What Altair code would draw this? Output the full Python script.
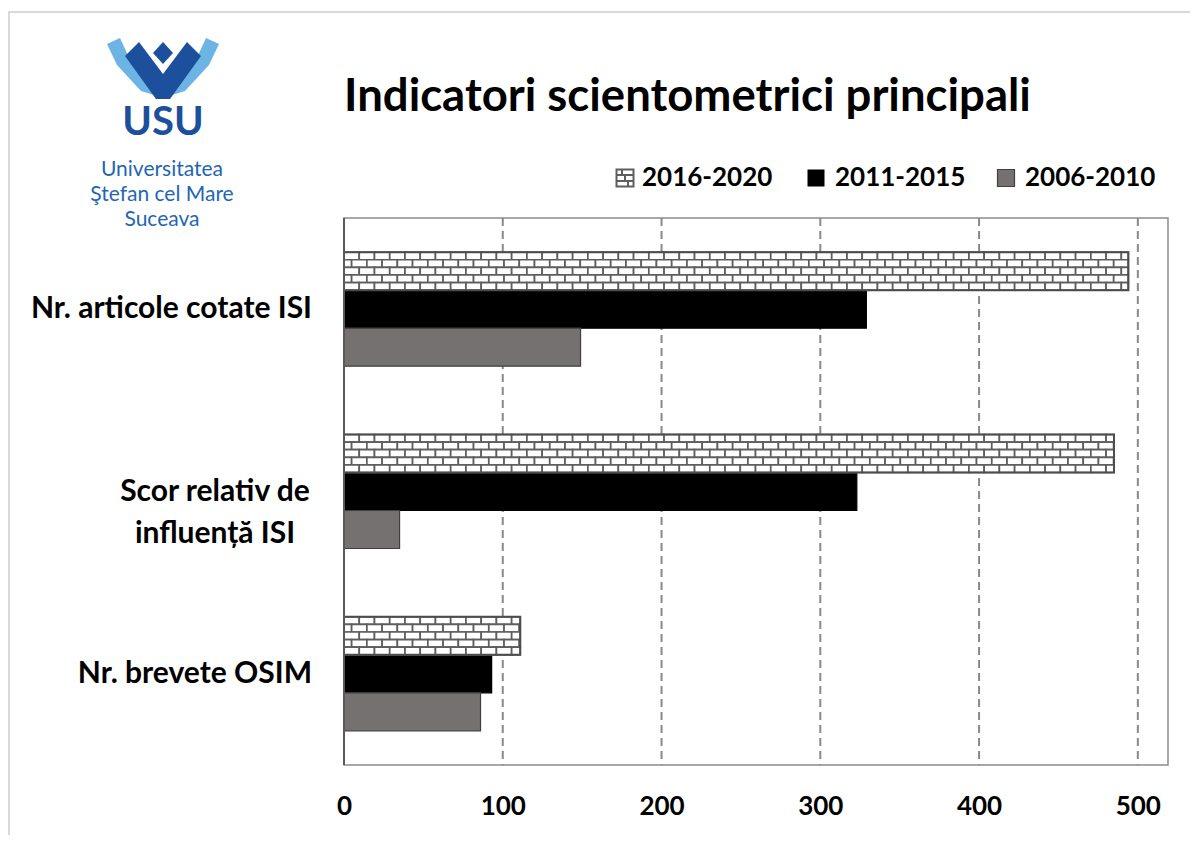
import altair as alt
import pandas as pd

# ---------------- data ----------------
categories = ["Nr. articole cotate ISI", "Scor relativ de\ninfluență ISI", "Nr. brevete OSIM"]
series = ["2016-2020", "2011-2015", "2006-2010"]
v_2016_2020 = [494, 485, 111]
v_2011_2015 = [329, 323, 93]
v_2006_2010 = [149, 35, 86]
x_ticks = [0, 100, 200, 300, 400, 500]

title_text = "Indicatori scientometrici principali"
logo_lines = ["Universitatea", "Ştefan cel Mare", "Suceava"]

# ---------------- layout constants ----------------
BAR = 0.2085            # thickness of one bar in category units
GROUP_HALF = 1.5 * BAR
BRICK_W = 9.6           # brick length in value units
BRICK_ROWS = 5
FONT = "Lato"

all_vals = [v_2016_2020, v_2011_2015, v_2006_2010]
rows = []
for ci, cat in enumerate(categories):
    for si, s in enumerate(series):
        top = ci + 0.5 - GROUP_HALF + si * BAR
        rows.append(dict(category=cat, series=s, value=all_vals[si][ci], x0=0,
                         y0=top, y1=top + BAR, ci=ci))
bars = pd.DataFrame(rows)

brick_rows = []
for ci, cat in enumerate(categories):
    v = v_2016_2020[ci]
    top = ci + 0.5 - GROUP_HALF
    for r in range(BRICK_ROWS):
        x = -(r % 2) * BRICK_W / 2
        while x < v:
            brick_rows.append(dict(bx0=max(x, 0), bx1=min(x + BRICK_W, v),
                                   by0=top + r * BAR / BRICK_ROWS,
                                   by1=top + (r + 1) * BAR / BRICK_ROWS))
            x += BRICK_W
bricks = pd.DataFrame(brick_rows)

labels = pd.DataFrame({"category": categories, "pos": [i + 0.5 for i in range(len(categories))]})
grid = pd.DataFrame({"tick": [t for t in x_ticks if t > 0]})
one = pd.DataFrame({"a": [0]})

W, H = 824, 547
xscale = alt.Scale(domain=[0, 519], nice=False, zero=True)
yscale = alt.Scale(domain=[0, 3], reverse=True, nice=False, zero=False)
xaxis = alt.Axis(values=x_ticks, grid=False, domain=False, ticks=False, title=None,
                 labelFont=FONT, labelFontWeight="bold", labelFontSize=26,
                 labelColor="black", labelPadding=28, labelFlush=False)

# grid lines
grid_layer = alt.Chart(grid).mark_rule(color="#8a8a8a", strokeWidth=2, strokeDash=[8, 5]).encode(
    x=alt.X("tick:Q", scale=xscale, axis=xaxis)
)

# solid bars
solid = alt.Chart(bars).transform_filter(alt.datum.series != "2016-2020").mark_rect(
    strokeWidth=1.2
).encode(
    x=alt.X("x0:Q", scale=xscale, axis=xaxis),
    x2="value:Q",
    y=alt.Y("y0:Q", scale=yscale, axis=None),
    y2="y1:Q",
    fill=alt.Fill("series:N", scale=alt.Scale(domain=series, range=["#ffffff", "#000000", "#767171"]), legend=None),
    stroke=alt.Stroke("series:N", scale=alt.Scale(domain=series, range=["#4d4d4d", "#000000", "#404040"]), legend=None),
)

# brick-patterned bars (2016-2020)
brick_layer = alt.Chart(bricks).mark_rect(fill="#ffffff", stroke="#5e5e5e", strokeWidth=1.7).encode(
    x=alt.X("bx0:Q", scale=xscale, axis=xaxis),
    x2="bx1:Q",
    y=alt.Y("by0:Q", scale=yscale, axis=None),
    y2="by1:Q",
)
brick_outline = alt.Chart(bars).transform_filter(alt.datum.series == "2016-2020").mark_rect(
    fill=None, stroke="#4d4d4d", strokeWidth=2
).encode(
    x=alt.X("x0:Q", scale=xscale, axis=xaxis),
    x2="value:Q",
    y=alt.Y("y0:Q", scale=yscale, axis=None),
    y2="y1:Q",
)

# left axis line
left_line = alt.Chart(one).mark_rule(color="#595959", strokeWidth=2).encode(
    x=alt.X(datum=0, scale=xscale, axis=xaxis)
)

# category labels
label_single = alt.Chart(labels).transform_filter(
    "indexof(datum.category, '\\n') < 0"
).mark_text(align="right", baseline="middle", font=FONT, fontWeight="bold",
            fontSize=30, color="black").encode(
    x=alt.value(-32),
    y=alt.Y("pos:Q", scale=yscale, axis=None),
    text="category:N",
)
label_multi = alt.Chart(labels).transform_filter(
    "indexof(datum.category, '\\n') >= 0"
).mark_text(align="center", baseline="middle", font=FONT, fontWeight="bold",
            fontSize=30, color="black", lineBreak="\n", lineHeight=42).encode(
    x=alt.value(-129),
    y=alt.Y("pos:Q", scale=yscale, axis=None),
    text="category:N",
)

# title
title_layer = alt.Chart(one).mark_text(align="left", baseline="middle", font=FONT,
                                       fontWeight="bold", fontSize=45.5, color="black",
                                       text=title_text).encode(
    x=alt.value(0), y=alt.value(-121)
)

# legend (custom)
leg_y = -40
brick_icon = ("M-8.5,-8.5H8.5V8.5H-8.5Z M-8.5,-3H8.5 M-8.5,3H8.5 "
              "M0,-3V3 M-3,-8.5V-3 M3,3V8.5")
leg1 = alt.Chart(one).mark_point(shape=brick_icon, size=4, filled=True, fill="#ffffff",
                                 stroke="#5e5e5e", strokeWidth=2, opacity=1).encode(
    x=alt.value(281), y=alt.value(leg_y))
leg2 = alt.Chart(one).mark_square(size=289, color="#000000", opacity=1).encode(
    x=alt.value(472), y=alt.value(leg_y))
leg3 = alt.Chart(one).mark_square(size=289, fill="#767171", stroke="#404040",
                                  strokeWidth=1.2, opacity=1).encode(
    x=alt.value(662), y=alt.value(leg_y))
leg_text_style = dict(align="left", baseline="middle", font=FONT, fontWeight="bold",
                      fontSize=26, color="black")
legt1 = alt.Chart(one).mark_text(text=series[0], **leg_text_style).encode(x=alt.value(298), y=alt.value(leg_y))
legt2 = alt.Chart(one).mark_text(text=series[1], **leg_text_style).encode(x=alt.value(491), y=alt.value(leg_y))
legt3 = alt.Chart(one).mark_text(text=series[2], **leg_text_style).encode(x=alt.value(681), y=alt.value(leg_y))

# logo
LX, LY = -181, -148
dark_path = ("M-38,-14 L-24,-28 L0,4 L24,-28 L38,-14 L7,29 L-7,29 Z "
             "M0,-28 L10,-17 L0,-6 L-10,-17 Z")
light_path = ("M-56,-26 L-43,-32 L-32,-8 L-9,25 L-22,21 L-46,-5 Z "
              "M56,-26 L43,-32 L32,-8 L9,25 L22,21 L46,-5 Z")
logo_light = alt.Chart(one).mark_point(shape=light_path, size=4, filled=True,
                                       fill="#6cb4e4", strokeWidth=0, opacity=1).encode(
    x=alt.value(LX), y=alt.value(LY))
logo_dark = alt.Chart(one).mark_point(shape=dark_path, size=4, filled=True,
                                      fill="#1c4f9c", strokeWidth=0, opacity=1).encode(
    x=alt.value(LX), y=alt.value(LY))
logo_usu = alt.Chart(one).mark_text(text="USU", align="center", baseline="middle", font=FONT,
                                    fontWeight="bold", fontSize=40, color="#1c4f9c").encode(
    x=alt.value(LX), y=alt.value(-95))
logo_text_style = dict(align="center", baseline="middle", font=FONT, fontSize=21, color="#1f66b5")
logo_t1 = alt.Chart(one).mark_text(text=logo_lines[0], **logo_text_style).encode(x=alt.value(-182), y=alt.value(-48))
logo_t2 = alt.Chart(one).mark_text(text=logo_lines[1], **logo_text_style).encode(x=alt.value(-182), y=alt.value(-23))
logo_t3 = alt.Chart(one).mark_text(text=logo_lines[2], **logo_text_style).encode(x=alt.value(-182), y=alt.value(2))

# outer frame (top and left edges)
frame_top = alt.Chart(one).mark_rule(color="#d9d9d9", strokeWidth=2).encode(
    x=alt.value(-336), x2=alt.value(W + 30), y=alt.value(-206))
frame_left = alt.Chart(one).mark_rule(color="#d9d9d9", strokeWidth=2).encode(
    x=alt.value(-335), y=alt.value(-206), y2=alt.value(H + 80))

chart = alt.layer(
    grid_layer, solid, brick_layer, brick_outline, left_line,
    label_single, label_multi, title_layer,
    leg1, leg2, leg3, legt1, legt2, legt3,
    logo_light, logo_dark, logo_usu, logo_t1, logo_t2, logo_t3,
    frame_top, frame_left,
).properties(
    width=W, height=H,
    autosize=alt.AutoSizeParams(type="none"),
    padding={"left": 336, "top": 210, "right": 22, "bottom": 70},
    background="white",
).configure_view(stroke="#8c8c8c", strokeWidth=1.5)

chart.save("out.html", embed_options={"renderer": "svg", "actions": False})
